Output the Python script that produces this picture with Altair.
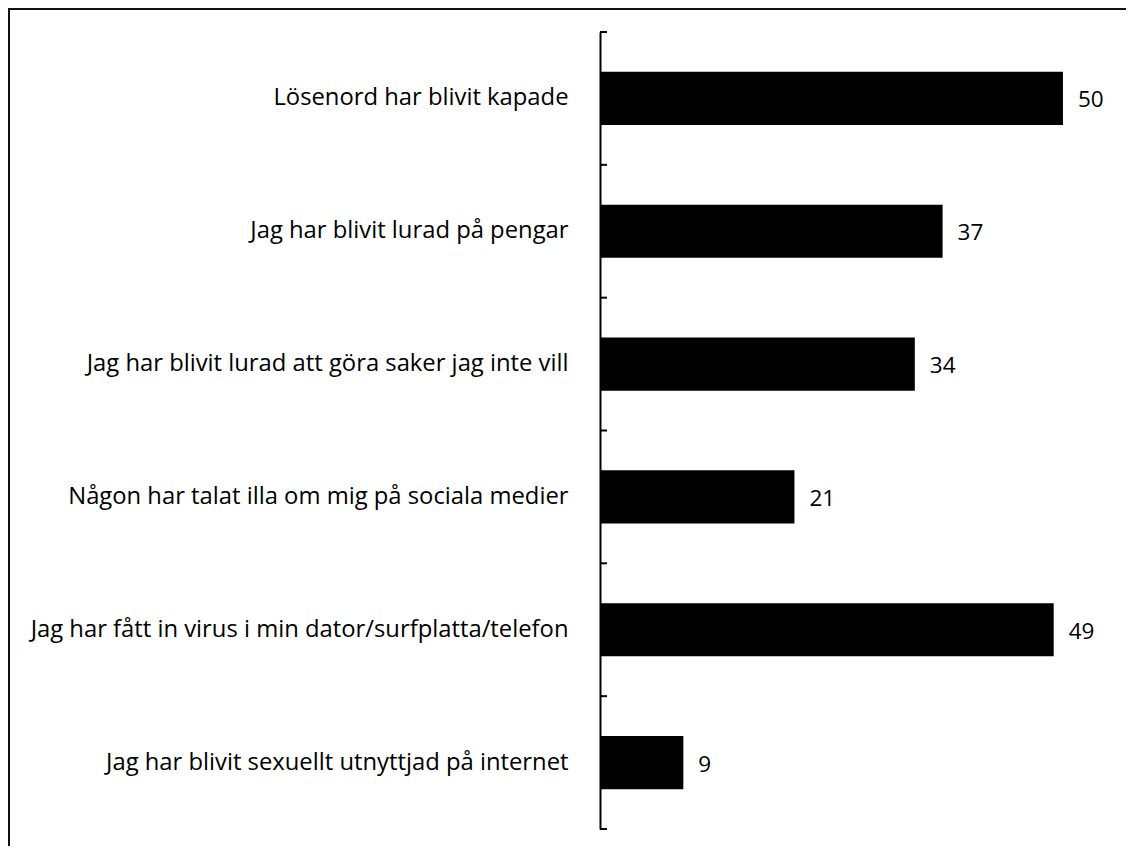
import altair as alt
import pandas as pd

categories = [
    "Lösenord har blivit kapade",
    "Jag har blivit lurad på pengar",
    "Jag har blivit lurad att göra saker jag inte vill",
    "Någon har talat illa om mig på sociala medier",
    "Jag har fått in virus i min dator/surfplatta/telefon",
    "Jag har blivit sexuellt utnyttjad på internet",
]
values = [50, 37, 34, 21, 49, 9]
band_edges = list(range(len(categories) + 1))

FONT = "Open Sans"
LABEL_FS = 23.8
VALUE_FS = 22.5
W, H = 500, 797

df = pd.DataFrame({"cat": categories, "val": values})
edges = pd.DataFrame({"edge": band_edges})
one = pd.DataFrame({"b": [0]})

y = alt.Y(
    "cat:N", sort=categories, title=None,
    scale=alt.Scale(paddingInner=0.6, paddingOuter=0.3),
    axis=alt.Axis(ticks=False, tickSize=0, labelPadding=32, domain=True,
                  domainColor="black", domainWidth=2, labelFont=FONT,
                  labelFontSize=LABEL_FS, labelColor="black", labelLimit=800),
)
x = alt.X("val:Q", scale=alt.Scale(domain=[0, 54], nice=False, zero=True), axis=None)

bars = alt.Chart(df).mark_bar(color="black").encode(x=x, y=y)
text = alt.Chart(df).mark_text(
    align="left", baseline="middle", dx=15, dy=2, font=FONT, fontSize=VALUE_FS, color="black"
).encode(x=x, y=y, text="val:Q")
main = alt.layer(bars, text)

ticks = alt.Chart(edges).mark_rule(color="black", strokeWidth=2).encode(
    y=alt.Y("edge:Q", scale=alt.Scale(domain=[0, 6], nice=False, zero=False), axis=None),
    x=alt.value(0), x2=alt.value(7),
)
border_left = alt.Chart(one).mark_rule(color="#111", strokeWidth=2).encode(
    x=alt.value(-591), y=alt.value(-24), y2=alt.value(814)
)
border_top = alt.Chart(one).mark_rule(color="#111", strokeWidth=2).encode(
    y=alt.value(-23), x=alt.value(-592), x2=alt.value(526)
)

chart = (
    alt.layer(main, ticks, border_left, border_top)
    .resolve_scale(y="independent")
    .properties(
        width=W, height=H,
        padding={"left": 592, "top": 24, "right": 26, "bottom": 17},
        autosize=alt.AutoSizeParams(type="none"),
    )
    .configure_view(stroke=None)
)

chart.save("out.html", embed_options={"renderer": "svg", "actions": False})
